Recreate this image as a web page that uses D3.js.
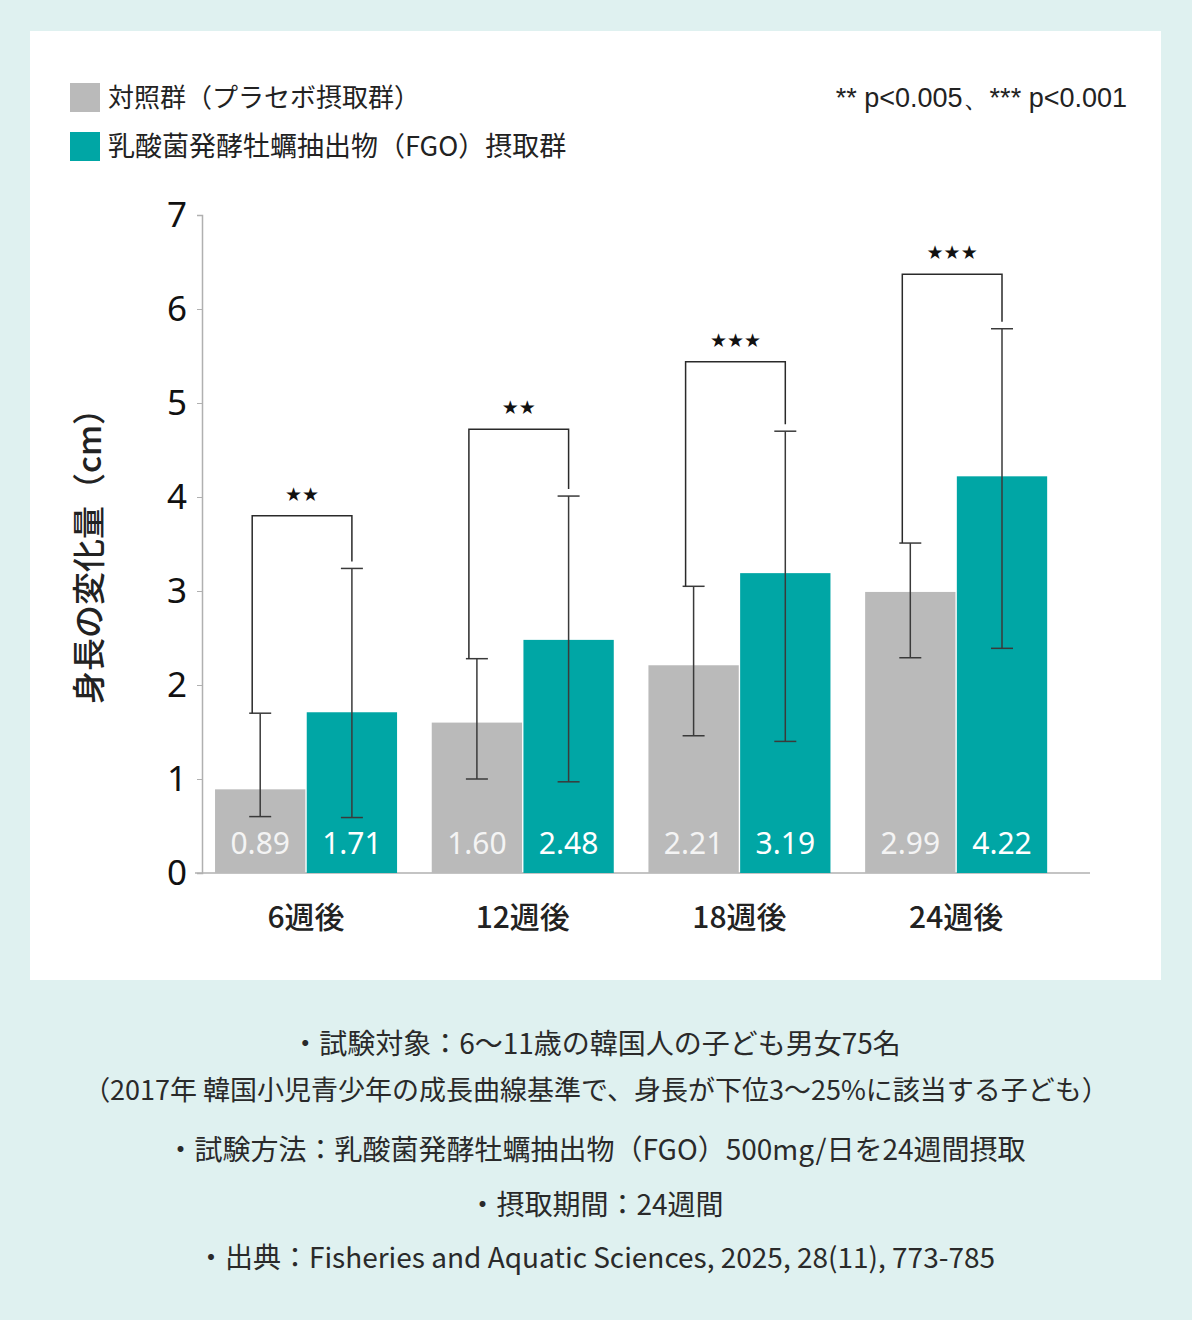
<!DOCTYPE html>
<html>
<head>
<meta charset="utf-8">
<script src="https://cdn.jsdelivr.net/npm/d3@7"></script>
<style>
  body { margin: 0; background: #dff1f0; }
  svg { display: block; }
</style>
</head>
<body>
<svg id="svg"></svg>
<script>
////////////////////////////////////////////////////////////////////////
// Data

let weeks = ["6週後", "12週後", "18週後", "24週後"];
let seriesNames = ["対照群（プラセボ摂取群）", "乳酸菌発酵牡蠣抽出物（FGO）摂取群"];
let controlMeans = [0.89, 1.60, 2.21, 2.99];
let fgoMeans = [1.71, 2.48, 3.19, 4.22];
let controlLow = [0.60, 1.00, 1.46, 2.29];
let controlHigh = [1.70, 2.28, 3.05, 3.51];
let fgoLow = [0.59, 0.97, 1.40, 2.39];
let fgoHigh = [3.24, 4.01, 4.70, 5.79];
let bracketLevel = [3.80, 4.72, 5.44, 6.37];
let stars = ["★★", "★★", "★★★", "★★★"];
let yTicks = [0, 1, 2, 3, 4, 5, 6, 7];
let notes = [
  "・試験対象：6〜11歳の韓国人の子ども男女75名",
  "（2017年 韓国小児青少年の成長曲線基準で、身長が下位3〜25%に該当する子ども）",
  "・試験方法：乳酸菌発酵牡蠣抽出物（FGO）500mg/日を24週間摂取",
  "・摂取期間：24週間",
  "・出典：Fisheries and Aquatic Sciences, 2025, 28(11), 773-785"
];

let colors = ["#bababa", "#00a6a5"];
let jp = "'Noto Sans CJK JP', 'Noto Sans', sans-serif";

////////////////////////////////////////////////////////////////////////
// Layout

let width = 1192, height = 1320;
let svg = d3.select("#svg").attr("width", width).attr("height", height);

svg.append("rect")
   .attr("x", 0).attr("y", 0).attr("width", width).attr("height", height)
   .attr("fill", "#dff1f0");

svg.append("rect")
   .attr("x", 30).attr("y", 31).attr("width", 1131).attr("height", 949)
   .attr("fill", "#ffffff");

let x = d3.scaleBand()
          .domain(weeks)
          .range([197.7, 1064.5])
          .paddingInner(0.16)
          .paddingOuter(0.08);

let xs = d3.scaleBand()
           .domain([0, 1])
           .range([0, x.bandwidth()])
           .paddingInner(0.015);

let y = d3.scaleLinear().domain([0, 7]).range([873, 215]);

let rows = weeks.map((w, i) => ({
  week: w,
  vals: [
    {s: 0, mean: controlMeans[i], lo: controlLow[i], hi: controlHigh[i]},
    {s: 1, mean: fgoMeans[i], lo: fgoLow[i], hi: fgoHigh[i]}
  ],
  bracket: bracketLevel[i],
  star: stars[i]
}));

////////////////////////////////////////////////////////////////////////
// Axes

let yAxis = svg.append("g")
  .attr("transform", "translate(202,0)")
  .call(d3.axisLeft(y).tickValues(yTicks).tickFormat(d3.format("d")).tickSize(5).tickPadding(10));
yAxis.select(".domain").attr("stroke", "#b0b0b0").attr("stroke-width", 1.5);
yAxis.selectAll(".tick line").attr("stroke", "#b0b0b0");
yAxis.selectAll(".tick text")
     .attr("font-family", "'Noto Sans', sans-serif")
     .attr("font-size", 35)
     .attr("fill", "#111");

svg.append("line")
   .attr("x1", 195).attr("x2", 1090)
   .attr("y1", y(0)).attr("y2", y(0))
   .attr("stroke", "#b0b0b0").attr("stroke-width", 1.5);

let xAxis = svg.append("g")
  .attr("transform", "translate(0," + y(0) + ")")
  .call(d3.axisBottom(x).tickSize(0).tickPadding(34));
xAxis.select(".domain").remove();
xAxis.selectAll(".tick text")
     .attr("font-family", jp)
     .attr("font-size", 30)
     .attr("font-weight", 500)
     .attr("fill", "#222");

svg.append("text")
   .attr("transform", "translate(101,548) rotate(-90)")
   .attr("text-anchor", "middle")
   .attr("font-family", jp)
   .attr("font-size", 33)
   .attr("font-weight", 500)
   .attr("fill", "#222")
   .text("身長の変化量（cm）");

////////////////////////////////////////////////////////////////////////
// Bars, error bars and brackets

let groups = svg.selectAll("g.grp")
  .data(rows)
  .enter()
  .append("g")
  .attr("class", "grp")
  .attr("transform", d => "translate(" + x(d.week) + ",0)");

groups.selectAll("rect")
  .data(d => d.vals)
  .enter()
  .append("rect")
  .attr("x", d => xs(d.s))
  .attr("width", xs.bandwidth())
  .attr("y", d => y(d.mean))
  .attr("height", d => y(0) - y(d.mean))
  .attr("fill", d => colors[d.s]);

groups.selectAll("text.val")
  .data(d => d.vals)
  .enter()
  .append("text")
  .attr("class", "val")
  .attr("x", d => xs(d.s) + xs.bandwidth() / 2)
  .attr("y", 854)
  .attr("text-anchor", "middle")
  .attr("font-family", "'Noto Sans', sans-serif")
  .attr("font-size", 30)
  .attr("fill", d => d.s === 0 ? "#f4f4f4" : "#ffffff")
  .text(d => d.mean.toFixed(2));

let cap = 11;
let eb = groups.selectAll("g.eb")
  .data(d => d.vals)
  .enter()
  .append("g")
  .attr("class", "eb")
  .attr("stroke", "#3a3a3a")
  .attr("stroke-width", 1.5);

eb.append("line")
  .attr("x1", d => xs(d.s) + xs.bandwidth() / 2)
  .attr("x2", d => xs(d.s) + xs.bandwidth() / 2)
  .attr("y1", d => y(d.lo)).attr("y2", d => y(d.hi));
eb.append("line")
  .attr("x1", d => xs(d.s) + xs.bandwidth() / 2 - cap)
  .attr("x2", d => xs(d.s) + xs.bandwidth() / 2 + cap)
  .attr("y1", d => y(d.lo)).attr("y2", d => y(d.lo));
eb.append("line")
  .attr("x1", d => xs(d.s) + xs.bandwidth() / 2 - cap)
  .attr("x2", d => xs(d.s) + xs.bandwidth() / 2 + cap)
  .attr("y1", d => y(d.hi)).attr("y2", d => y(d.hi));

groups.append("path")
  .attr("fill", "none")
  .attr("stroke", "#2a2a2a")
  .attr("stroke-width", 1.5)
  .attr("d", d => {
    let xa = xs(0) + xs.bandwidth() / 2 - 8;
    let xb = xs(1) + xs.bandwidth() / 2;
    return "M" + xa + "," + y(d.vals[0].hi) +
           "V" + y(d.bracket) +
           "H" + xb +
           "V" + (y(d.vals[1].hi) - 7);
  });

groups.append("text")
  .attr("x", x.bandwidth() / 2 - 4)
  .attr("y", d => y(d.bracket) - 15)
  .attr("text-anchor", "middle")
  .attr("font-family", "'DejaVu Sans', sans-serif")
  .attr("font-size", 19)
  .attr("fill", "#111")
  .text(d => d.star);

////////////////////////////////////////////////////////////////////////
// Legend and notes

let legend = svg.selectAll("g.leg")
  .data(seriesNames)
  .enter()
  .append("g")
  .attr("class", "leg")
  .attr("transform", (d, i) => "translate(70," + (83 + i * 49) + ")");

legend.append("rect")
  .attr("width", 30).attr("height", 29)
  .attr("fill", (d, i) => colors[i]);

legend.append("text")
  .attr("x", 38).attr("y", 24)
  .attr("font-family", jp)
  .attr("font-size", (d, i) => i === 0 ? 26 : 27)
  .attr("fill", "#222")
  .text(d => d);

svg.append("text")
   .attr("x", 1127).attr("y", 107)
   .attr("text-anchor", "end")
   .attr("font-family", "'Liberation Sans', sans-serif")
   .attr("font-size", 27)
   .attr("fill", "#222")
   .text("** p<0.005、*** p<0.001");

let noteY = [1044, 1090, 1150, 1205, 1258];
svg.selectAll("text.note")
  .data(notes)
  .enter()
  .append("text")
  .attr("class", "note")
  .attr("x", 596)
  .attr("y", (d, i) => noteY[i] + 10)
  .attr("text-anchor", "middle")
  .attr("font-family", jp)
  .attr("font-size", (d, i) => i === 1 ? 27 : 28)
  .attr("fill", "#2a2a2a")
  .text(d => d);
</script>
</body>
</html>
